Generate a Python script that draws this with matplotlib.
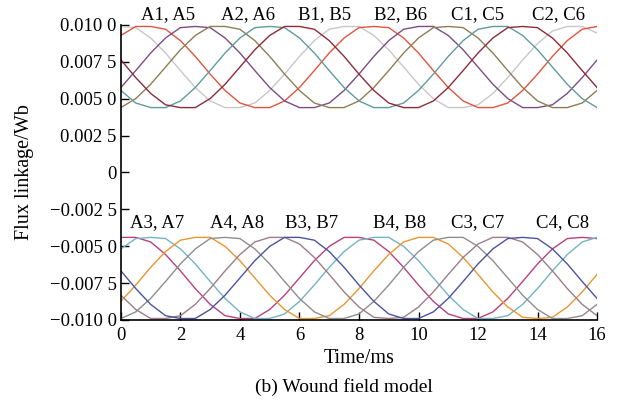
import matplotlib
matplotlib.use("Agg")
import matplotlib.pyplot as plt
import numpy as np

plt.rcParams["font.family"] = ["Liberation Serif", "DejaVu Serif"]

# flux values, in units of 1e-4 Wb
SCALE = 1e-4

time_ms = [0, 0.5, 1, 1.5, 2, 2.5, 3, 3.5, 4, 4.5, 5, 5.5, 6, 6.5, 7, 7.5, 8,
           8.5, 9, 9.5, 10, 10.5, 11, 11.5, 12, 12.5, 13, 13.5, 14, 14.5, 15,
           15.5, 16]

# upper group (A1/A5 ... C2/C6)
top_gray = [99.0, 98.2, 91.2, 81.0, 69.1, 57.6, 48.5, 44.0, 44.0, 47.1, 55.6,
            66.7, 78.7, 89.4, 97.1, 99.0, 99.0, 92.9, 83.2, 71.5, 59.8, 50.1,
            44.0, 44.0, 45.9, 53.6, 64.3, 76.3, 87.4, 95.9, 99.0, 99.0, 94.5]
top_red = [92.9, 99.0, 99.0, 97.1, 89.4, 78.7, 66.7, 55.6, 47.1, 44.0, 44.0,
           48.5, 57.6, 69.1, 81.0, 91.2, 98.2, 99.0, 98.2, 91.2, 81.0, 69.1,
           57.6, 48.5, 44.0, 44.0, 47.1, 55.6, 66.7, 78.7, 89.4, 97.1, 99.0]
top_purple = [57.6, 69.1, 81.0, 91.2, 98.2, 99.0, 98.2, 91.2, 81.0, 69.1, 57.6,
              48.5, 44.0, 44.0, 47.1, 55.6, 66.7, 78.7, 89.4, 97.1, 99.0, 99.0,
              92.9, 83.2, 71.5, 59.8, 50.1, 44.0, 44.0, 45.9, 53.6, 64.3, 76.3]
top_olive = [44.0, 50.1, 59.8, 71.5, 83.2, 92.9, 99.0, 99.0, 97.1, 89.4, 78.7,
             66.7, 55.6, 47.1, 44.0, 44.0, 48.5, 57.6, 69.1, 81.0, 91.2, 98.2,
             99.0, 98.2, 91.2, 81.0, 69.1, 57.6, 48.5, 44.0, 44.0, 47.1, 55.6]
top_teal = [55.6, 47.1, 44.0, 44.0, 48.5, 57.6, 69.1, 81.0, 91.2, 98.2, 99.0,
            98.2, 91.2, 81.0, 69.1, 57.6, 48.5, 44.0, 44.0, 47.1, 55.6, 66.7,
            78.7, 89.4, 97.1, 99.0, 99.0, 92.9, 83.2, 71.5, 59.8, 50.1, 44.0]
top_maroon = [76.3, 64.3, 53.6, 45.9, 44.0, 44.0, 50.1, 59.8, 71.5, 83.2, 92.9,
              99.0, 99.0, 97.1, 89.4, 78.7, 66.7, 55.6, 47.1, 44.0, 44.0, 48.5,
              57.6, 69.1, 81.0, 91.2, 98.2, 99.0, 98.2, 91.2, 81.0, 69.1, 57.6]

# lower group (A3/A7 ... C4/C8)
bot_magenta = [-44.0, -44.0, -47.1, -55.6, -66.7, -78.7, -89.4, -97.1, -99.0,
               -99.0, -92.9, -83.2, -71.5, -59.8, -50.1, -44.0, -44.0, -45.9,
               -53.6, -64.3, -76.3, -87.4, -95.9, -99.0, -99.0, -94.5, -85.4,
               -73.9, -62.0, -51.8, -44.8, -44.0, -44.8]
bot_lightblue = [-51.8, -44.8, -44.0, -44.8, -51.8, -62.0, -73.9, -85.4, -94.5,
                 -99.0, -99.0, -95.9, -87.4, -76.3, -64.3, -53.6, -45.9, -44.0,
                 -44.0, -50.1, -59.8, -71.5, -83.2, -92.9, -99.0, -99.0, -97.1,
                 -89.4, -78.7, -66.7, -55.6, -47.1, -44.0]
bot_orange = [-87.4, -76.3, -64.3, -53.6, -45.9, -44.0, -44.0, -50.1, -59.8,
              -71.5, -83.2, -92.9, -99.0, -99.0, -97.1, -89.4, -78.7, -66.7,
              -55.6, -47.1, -44.0, -44.0, -48.5, -57.6, -69.1, -81.0, -91.2,
              -98.2, -99.0, -98.2, -91.2, -81.0, -69.1]
bot_gray = [-99.0, -94.5, -85.4, -73.9, -62.0, -51.8, -44.8, -44.0, -44.8,
            -51.8, -62.0, -73.9, -85.4, -94.5, -99.0, -99.0, -95.9, -87.4,
            -76.3, -64.3, -53.6, -45.9, -44.0, -44.0, -50.1, -59.8, -71.5,
            -83.2, -92.9, -99.0, -99.0, -97.1, -89.4]
bot_mauve = [-83.2, -92.9, -99.0, -99.0, -97.1, -89.4, -78.7, -66.7, -55.6,
             -47.1, -44.0, -44.0, -48.5, -57.6, -69.1, -81.0, -91.2, -98.2,
             -99.0, -98.2, -91.2, -81.0, -69.1, -57.6, -48.5, -44.0, -44.0,
             -47.1, -55.6, -66.7, -78.7, -89.4, -97.1]
bot_navy = [-66.7, -78.7, -89.4, -97.1, -99.0, -99.0, -92.9, -83.2, -71.5,
            -59.8, -50.1, -44.0, -44.0, -45.9, -53.6, -64.3, -76.3, -87.4,
            -95.9, -99.0, -99.0, -94.5, -85.4, -73.9, -62.0, -51.8, -44.8,
            -44.0, -44.8, -51.8, -62.0, -73.9, -85.4]

top_labels = ["A1, A5", "A2, A6", "B1, B5", "B2, B6", "C1, C5", "C2, C6"]
bot_labels = ["A3, A7", "A4, A8", "B3, B7", "B4, B8", "C3, C7", "C4, C8"]
label_times = [1.58, 4.27, 6.86, 9.38, 12.0, 14.69]
bot_label_times = [1.2, 3.9, 6.4, 9.35, 12.0, 14.85]

y_ticks = [0.0100, 0.0075, 0.0050, 0.0025, 0.0, -0.0025, -0.0050, -0.0075, -0.0100]
y_tick_labels = ["0.010 0", "0.007 5", "0.005 0", "0.002 5", "0",
                 "\u22120.002 5", "\u22120.005 0", "\u22120.007 5", "\u22120.010 0"]
x_ticks = [0, 2, 4, 6, 8, 10, 12, 14, 16]

series = [
    (top_gray, "#c8c8c8"),
    (top_red, "#e0553e"),
    (top_purple, "#7c4c86"),
    (top_olive, "#8c7f55"),
    (top_teal, "#5f9c9c"),
    (top_maroon, "#8d2b3c"),
    (bot_magenta, "#b8427c"),
    (bot_lightblue, "#74b3c6"),
    (bot_orange, "#e8972f"),
    (bot_gray, "#8e8e8e"),
    (bot_mauve, "#9e7d88"),
    (bot_navy, "#4b53a2"),
]

fig = plt.figure(figsize=(6.2, 4.03), dpi=100)
ax = fig.add_axes([0.195, 0.206, 0.768, 0.732])

for values, color in series:
    ax.plot(time_ms, np.array(values) * SCALE, color=color, lw=1.0)

ax.set_xlim(0, 16)
ax.set_ylim(-0.0100, 0.0100)
ax.set_xticks(x_ticks)
ax.set_xticklabels([str(x) for x in x_ticks])
ax.set_yticks(y_ticks)
ax.set_yticklabels(y_tick_labels)
ax.tick_params(direction="in", length=6, width=1.0, labelsize=13.5,
               colors="black")
ax.tick_params(axis="x", pad=5)
ax.tick_params(axis="y", pad=3)

for side in ["top", "right"]:
    ax.spines[side].set_visible(False)
for side in ["left", "bottom"]:
    ax.spines[side].set_linewidth(1.2)

for t, text in zip(label_times, top_labels):
    ax.text(t, 0.01068, text, ha="center", va="center", fontsize=13.5,
            clip_on=False)
for t, text in zip(bot_label_times, bot_labels):
    ax.text(t, -0.00342, text, ha="center", va="center", fontsize=13.5,
            clip_on=False)

ax.set_xlabel("Time/ms", fontsize=14.5, labelpad=4)
ax.set_ylabel("Flux linkage/Wb", fontsize=14.5, labelpad=11)
fig.text(0.555, 0.040, "(b) Wound field model", ha="center", va="center",
         fontsize=14)

fig.savefig("out.png", dpi=100)
